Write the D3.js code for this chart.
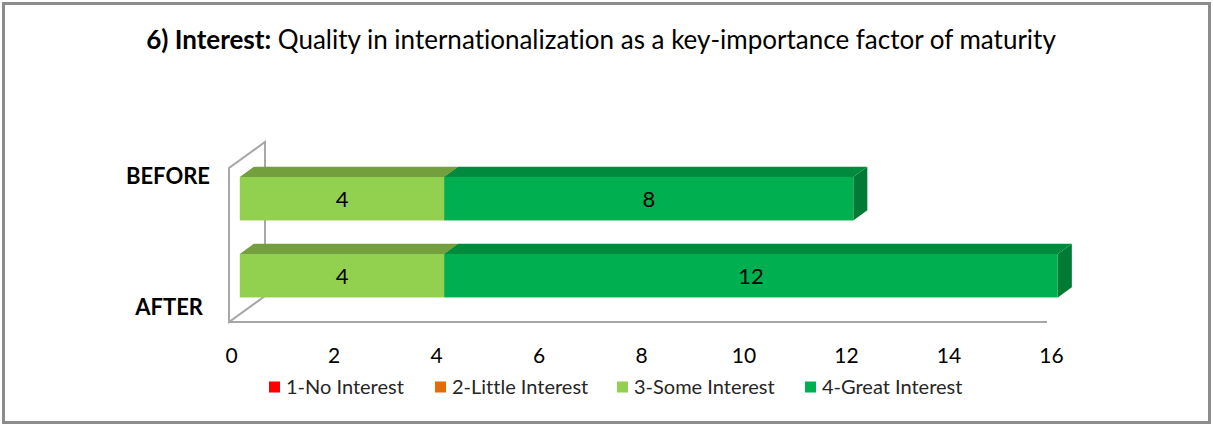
<!DOCTYPE html>
<html>
<head>
<meta charset="utf-8">
<script src="https://cdn.jsdelivr.net/npm/d3@7.9.0/dist/d3.min.js"></script>
<style>
  body { margin: 0; background: #fff; }
  svg { display: block; font-family: Lato, "Open Sans", sans-serif; font-variant-ligatures: none; }
</style>
</head>
<body>
<div id="chart"></div>
<script>
// chart values
const categories = ['BEFORE', 'AFTER'];
const seriesNames = ['1-No Interest', '2-Little Interest', '3-Some Interest', '4-Great Interest'];
const beforeValues = [0, 0, 4, 8];
const afterValues = [0, 0, 4, 12];
const xTicks = [0, 2, 4, 6, 8, 10, 12, 14, 16];

const colors = ['#ff0000', '#e36c09', '#92d050', '#00b050'];
const topColors = ['#cc0000', '#b55607', '#739f3d', '#008a3e'];
const sideColors = ['#b30000', '#9e4b06', '#648b35', '#007a34'];

const width = 1213;
const height = 426;

const svg = d3.select('#chart')
  .append('svg')
  .attr('width', width)
  .attr('height', height);

// outer frame
svg.append('rect')
  .attr('x', 3.5).attr('y', 3.5)
  .attr('width', width - 7).attr('height', height - 7)
  .attr('fill', '#fff')
  .attr('stroke', '#8c8c8c')
  .attr('stroke-width', 3);

// title
const title = svg.append('text')
  .attr('x', 601).attr('y', 49)
  .attr('text-anchor', 'middle')
  .attr('font-size', 26);
title.append('tspan').attr('font-weight', 'bold').text('6) Interest:');
title.append('tspan').text(' Quality in internationalization as a key-importance factor of maturity');

// table for stacking
const rows = categories.map((c, i) => {
  const vals = i === 0 ? beforeValues : afterValues;
  const r = { category: c };
  seriesNames.forEach((s, j) => r[s] = vals[j]);
  return r;
});
const stacked = d3.stack().keys(seriesNames)(rows);

// 3d-ish geometry
const floor = { left: 229, right: 1047, front: 322, top: 168 };
const depth = { dx: 36, dy: -26 };
const barFront = 0.3, barBack = 0.69;

const xFloor = d3.scaleLinear().domain([0, 16]).range([floor.left, floor.right]);
const xBar = (v) => xFloor(v) + depth.dx * barFront;
const bdx = depth.dx * (barBack - barFront);
const bdy = depth.dy * (barBack - barFront);

const yBand = d3.scaleBand()
  .domain(categories)
  .range([floor.top + depth.dy * barFront, floor.front + depth.dy * barFront])
  .paddingInner(0.435)
  .paddingOuter(0.2175);

// left wall + floor outline
const wall = svg.append('g')
  .attr('fill', 'none')
  .attr('stroke', '#a6a6a6')
  .attr('stroke-width', 2);
wall.append('path')
  .attr('fill', '#fff')
  .attr('d', `M${floor.left},${floor.front} L${floor.left},${floor.top}
    L${floor.left + depth.dx},${floor.top + depth.dy}
    L${floor.left + depth.dx},${floor.front + depth.dy} Z`);
wall.append('line')
  .attr('x1', floor.left).attr('x2', floor.right)
  .attr('y1', floor.front).attr('y2', floor.front);

// bars, left to right so later segments cover earlier side faces
const bars = svg.append('g');
categories.forEach((cat, ci) => {
  stacked.forEach((layer, si) => {
    const d = layer[ci];
    if (d[1] - d[0] <= 0) return;
    const x0 = xBar(d[0]), x1 = xBar(d[1]);
    const y0 = yBand(cat), y1 = y0 + yBand.bandwidth();
    const g = bars.append('g');
    g.append('path')
      .attr('fill', sideColors[si])
      .attr('d', `M${x1},${y0} L${x1 + bdx},${y0 + bdy} L${x1 + bdx},${y1 + bdy} L${x1},${y1} Z`);
    g.append('path')
      .attr('fill', topColors[si])
      .attr('d', `M${x0},${y0} L${x0 + bdx},${y0 + bdy} L${x1 + bdx},${y0 + bdy} L${x1},${y0} Z`);
    g.append('rect')
      .attr('x', x0).attr('y', y0)
      .attr('width', x1 - x0).attr('height', y1 - y0)
      .attr('fill', colors[si]);
    g.append('text')
      .attr('x', (x0 + x1) / 2)
      .attr('y', (y0 + y1) / 2 + 1)
      .attr('dy', '0.35em')
      .attr('text-anchor', 'middle')
      .attr('font-size', 22)
      .attr('fill', '#000')
      .text(d[1] - d[0]);
  });
});

// category labels
const yLabel = d3.scalePoint().domain(categories).range([176, 307]);
svg.append('g')
  .selectAll('text')
  .data(categories)
  .join('text')
  .attr('x', (d, i) => i === 0 ? 210 : 203)
  .attr('y', (d) => yLabel(d))
  .attr('dy', '0.35em')
  .attr('text-anchor', 'end')
  .attr('font-weight', 'bold')
  .attr('font-size', 22)
  .text((d) => d);

// x axis labels
const xAxis = d3.axisBottom(xFloor.copy().range([231, 1051]))
  .tickValues(xTicks)
  .tickSize(0)
  .tickPadding(0);
svg.append('g')
  .attr('transform', `translate(0, ${348})`)
  .call(xAxis)
  .call((g) => g.select('.domain').remove())
  .call((g) => g.selectAll('text')
    .attr('font-family', 'Lato, sans-serif')
    .attr('font-size', 21)
    .attr('fill', '#000'));

// legend
const legendX = [269, 435, 617, 805];
const legend = svg.append('g')
  .selectAll('g')
  .data(seriesNames)
  .join('g')
  .attr('transform', (d, i) => `translate(${legendX[i]}, ${387})`);
legend.append('rect')
  .attr('x', 0).attr('y', -5.5)
  .attr('width', 11).attr('height', 11)
  .attr('fill', (d, i) => colors[i]);
legend.append('text')
  .attr('x', 17)
  .attr('dy', '0.35em')
  .attr('font-size', 20)
  .attr('fill', '#262626')
  .text((d) => d);
</script>
</body>
</html>
